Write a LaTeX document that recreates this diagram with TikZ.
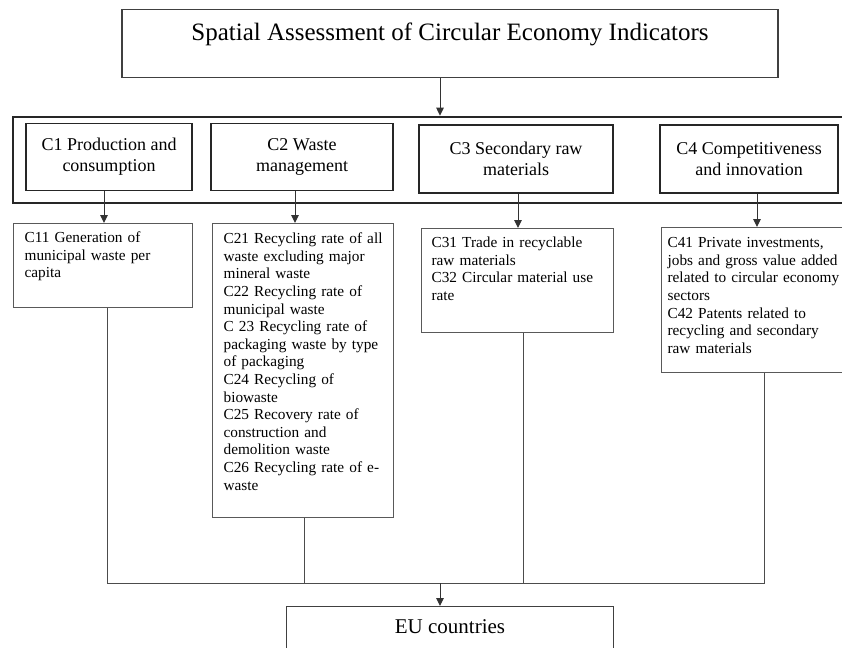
\documentclass[tikz,border=0pt]{standalone}
\usepackage{fontspec}
\setmainfont{Liberation Serif}
\usetikzlibrary{arrows.meta}

\begin{document}
\begin{tikzpicture}[x=1pt,y=-1pt,
    title/.style={draw=black!75,line width=1.2pt,inner sep=0pt,anchor=north},
    group/.style={draw=black!85,line width=2.6pt,inner sep=0pt},
    cat/.style={draw=black!85,line width=1.8pt,inner sep=0pt,align=center,
      font=\fontsize{18}{21}\selectfont},
    item/.style={draw=black!65,line width=1.2pt,anchor=north west,align=left,
      inner ysep=0pt,font=\fontsize{15.3}{17.6}\selectfont},
    arr/.style={-{Triangle[length=8pt,width=7.5pt]},draw=black!80,line width=1pt},
    link/.style={draw=black!70,line width=0.9pt}]
  \useasboundingbox (0,0) rectangle (842,647);
  \clip (0,0) rectangle (842,647);

  % heading
  \node[title,minimum width=656pt,text height=31pt,text depth=37pt,
    font=\fontsize{25}{30}\selectfont] (top) at (450,9)
    {Spatial Assessment of Circular Economy Indicators};

  % the four groups of indicators
  \node[group,minimum width=839pt,minimum height=86pt] (frame) at (432.5,160) {};
  \node[cat,minimum width=166pt,minimum height=67pt] (c1) at (109,157)
    {C1 Production and\\consumption};
  \node[cat,minimum width=182pt,minimum height=67pt] (c2) at (302,157)
    {C2 Waste\\management};
  \node[cat,minimum width=194pt,minimum height=68pt] (c3) at (516,159)
    {C3 Secondary raw\\materials};
  \node[cat,minimum width=178pt,minimum height=68pt] (c4) at (749,159)
    {C4 Competitiveness\\and innovation};

  % indicators
  \node[item,inner xsep=11pt,text width=157pt,text height=19pt,text depth=65pt]
    (c11) at (13,223)
    {C11 Generation of\\municipal waste per\\capita};
  \node[item,inner xsep=11pt,text width=159pt,text height=20pt,text depth=274pt]
    (c21) at (212,223)
    {C21 Recycling rate of all\\waste excluding major\\mineral waste\\
     C22 Recycling rate of\\municipal waste\\
     C 23 Recycling rate of\\packaging waste by type\\of packaging\\
     C24 Recycling of\\biowaste\\
     C25 Recovery rate of\\construction and\\demolition waste\\
     C26 Recycling rate of e-\\waste};
  \node[item,inner xsep=10pt,text width=172pt,text height=19pt,text depth=85pt]
    (c31) at (421,228)
    {C31 Trade in recyclable\\raw materials\\C32 Circular material use\\rate};
  \node[item,inner xsep=6pt,text width=194pt,text height=20pt,text depth=125pt]
    (c41) at (661,227)
    {C41 Private investments,\\jobs and gross value added\\related to circular economy\\sectors\\
     C42 Patents related to\\recycling and secondary\\raw materials};

  \node[title,minimum width=327pt,text height=27pt,text depth=30pt,
    font=\fontsize{21}{25}\selectfont] (eu) at (450,606) {EU countries};

  % connectors
  \coordinate (join) at (440,583);
  \draw[arr] (join |- top.south) -- (join |- frame.north);
  \foreach \a/\b/\s in {c1/c11/-5,c2/c21/-7,c3/c31/2,c4/c41/8}
    \draw[arr] ([xshift=\s pt]\a.south) -- ([xshift=\s pt]\a.south |- \b.north);
  \foreach \b/\s in {c11/4,c21/1,c31/6,c41/0}
    \draw[link] ([xshift=\s pt]\b.south) -- ([xshift=\s pt]\b.south |- join);
  \draw[link] ([xshift=4pt]c11.south |- join) -- (c41.south |- join);
  \draw[arr] (join) -- (join |- eu.north);
\end{tikzpicture}
\end{document}
